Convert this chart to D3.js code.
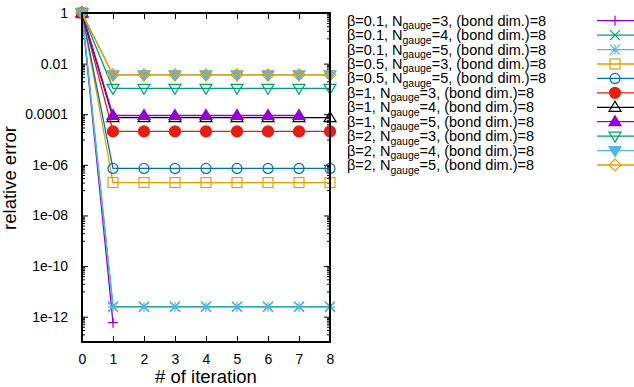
<!DOCTYPE html>
<html>
<head>
<meta charset="utf-8">
<script src="https://cdn.jsdelivr.net/npm/d3@7"></script>
<style>
  body { margin: 0; background: #fff; }
  svg { display: block; }
  text { font-family: "Liberation Sans", Arial, Helvetica, sans-serif; }
</style>
</head>
<body>
<svg id="chart" width="634" height="387"></svg>
<script>
// ---------- data ----------
const iterations = [0, 1, 2, 3, 4, 5, 6, 7, 8];
const betas   = ["0.1", "0.1", "0.1", "0.5", "0.5", "1", "1", "1", "2", "2", "2"];
const ngauges = ["3", "4", "5", "3", "5", "3", "4", "5", "3", "4", "5"];
const bondDim = "8";
const colors  = ["#9400d3", "#009e73", "#56b4e9", "#e69f00", "#0072b2", "#e51e10",
                 "#000000", "#9400d3", "#009e73", "#56b4e9", "#e69f00"];
const symbols = ["plus", "cross", "star", "square", "circle", "circleFilled",
                 "triangle", "triangleFilled", "triangleDown", "triangleDownFilled", "diamond"];
const s1  = [1, 5.8e-13];
const s2  = [1, 2.5e-12, 2.5e-12, 2.5e-12, 2.5e-12, 2.5e-12, 2.5e-12, 2.5e-12, 2.5e-12];
const s3  = [1, 2.4e-12, 2.4e-12, 2.4e-12, 2.4e-12, 2.4e-12, 2.4e-12, 2.4e-12, 2.4e-12];
const s4  = [1, 2.0e-7, 2.0e-7, 2.0e-7, 2.0e-7, 2.0e-7, 2.0e-7, 2.0e-7, 2.0e-7];
const s5  = [1, 7.2e-7, 7.2e-7, 7.2e-7, 7.2e-7, 7.2e-7, 7.2e-7, 7.2e-7, 7.2e-7];
const s6  = [1, 2.1e-5, 2.1e-5, 2.1e-5, 2.1e-5, 2.1e-5, 2.1e-5, 2.1e-5, 2.1e-5];
const s7  = [1, 7.3e-5, 7.3e-5, 7.3e-5, 7.3e-5, 7.3e-5, 7.3e-5, 7.3e-5, 7.3e-5];
const s8  = [1, 8.9e-5, 8.9e-5, 8.9e-5, 8.9e-5, 8.9e-5, 8.9e-5, 8.9e-5];
const s9  = [1, 1.06e-3, 1.06e-3, 1.06e-3, 1.06e-3, 1.06e-3, 1.06e-3, 1.06e-3, 1.06e-3];
const s10 = [1, 3.6e-3, 3.6e-3, 3.6e-3, 3.6e-3, 3.6e-3, 3.6e-3, 3.6e-3, 3.6e-3];
const s11 = [1, 3.6e-3, 3.6e-3, 3.6e-3, 3.6e-3, 3.6e-3, 3.6e-3, 3.6e-3, 3.6e-3];
const seriesValues = [s1, s2, s3, s4, s5, s6, s7, s8, s9, s10, s11];

const yMajorTicks  = [1, 1e-2, 1e-4, 1e-6, 1e-8, 1e-10, 1e-12];
const yTickLabels  = ["1", "0.01", "0.0001", "1e-06", "1e-08", "1e-10", "1e-12"];
const xTicks       = [0, 1, 2, 3, 4, 5, 6, 7, 8];
const xLabel = "# of iteration";
const yLabel = "relative error";

// ---------- layout ----------
const L = 82, R = 330, T = 13, B = 342;
const svg = d3.select("#chart");
const x = d3.scaleLinear().domain([0, 8]).range([L, R]);
const y = d3.scaleLog().domain([1, 1e-13]).range([T, B]);

// minor ticks: m * 10^(major-1) (gnuplot style for factor-100 major spacing)
const yMinor = [];
yMajorTicks.forEach(t => {
  for (let m = 1; m <= 9; m++) {
    const v = t * m / 10;
    if (v >= 1e-13 * 0.999 && v < 1) yMinor.push(v);
  }
});

const g = svg.append("g");

// left axis
const axL = d3.axisLeft(y).tickValues(yMajorTicks).tickFormat((d, i) => yTickLabels[i]).tickSizeInner(-6).tickSizeOuter(0).tickPadding(14);
const gL = g.append("g").attr("transform", `translate(${L},0)`).call(axL);
gL.select(".domain").remove();
gL.selectAll("text").attr("font-size", 14).attr("fill", "#000").style("font-family", '"Liberation Sans", Arial, sans-serif');
gL.selectAll("line").attr("stroke", "#000").attr("stroke-width", 1);
g.append("g").attr("transform", `translate(${L},0)`)
  .call(d3.axisLeft(y).tickValues(yMinor).tickFormat("").tickSizeInner(-3).tickSizeOuter(0))
  .call(s => s.select(".domain").remove());

// right axis (mirror)
const gR = g.append("g").attr("transform", `translate(${R},0)`)
  .call(d3.axisRight(y).tickValues(yMajorTicks).tickFormat("").tickSizeInner(-6).tickSizeOuter(0));
gR.select(".domain").remove();
g.append("g").attr("transform", `translate(${R},0)`)
  .call(d3.axisRight(y).tickValues(yMinor).tickFormat("").tickSizeInner(-3).tickSizeOuter(0))
  .call(s => s.select(".domain").remove());

// bottom axis
const gB = g.append("g").attr("transform", `translate(0,${B})`)
  .call(d3.axisBottom(x).tickValues(xTicks).tickFormat(d3.format("d")).tickSizeInner(-6).tickSizeOuter(0).tickPadding(12));
gB.select(".domain").remove();
gB.selectAll("text").attr("font-size", 14).attr("fill", "#000").style("font-family", '"Liberation Sans", Arial, sans-serif');
// top axis (mirror)
g.append("g").attr("transform", `translate(0,${T})`)
  .call(d3.axisTop(x).tickValues(xTicks).tickFormat("").tickSizeInner(-6).tickSizeOuter(0))
  .call(s => s.select(".domain").remove());

// ---------- symbols ----------
function drawSymbol(sel, type, color, cx, cy) {
  const gg = sel.append("g").attr("transform", `translate(${cx},${cy})`);
  const sw = 1.2;
  const s = 5;
  switch (type) {
    case "plus":
      gg.append("path").attr("d", `M${-s},0H${s}M0,${-s}V${s}`).attr("stroke", color).attr("stroke-width", sw).attr("fill", "none"); break;
    case "cross":
      gg.append("path").attr("d", `M${-s},${-s}L${s},${s}M${-s},${s}L${s},${-s}`).attr("stroke", color).attr("stroke-width", sw).attr("fill", "none"); break;
    case "star":
      gg.append("path").attr("d", `M${-s},${-s}L${s},${s}M${-s},${s}L${s},${-s}M${-s},0H${s}M0,${-s}V${s}`).attr("stroke", color).attr("stroke-width", sw).attr("fill", "none"); break;
    case "square":
      gg.append("rect").attr("x", -s).attr("y", -s).attr("width", 2 * s).attr("height", 2 * s).attr("stroke", color).attr("stroke-width", sw).attr("fill", "none"); break;
    case "circle":
      gg.append("circle").attr("r", s).attr("stroke", color).attr("stroke-width", sw).attr("fill", "none"); break;
    case "circleFilled":
      gg.append("circle").attr("r", s + 0.5).attr("stroke", color).attr("stroke-width", sw).attr("fill", color); break;
    case "triangle":
      gg.append("path").attr("d", `M0,${-s - 1}L${s + 1},${s - 1}L${-s - 1},${s - 1}Z`).attr("stroke", color).attr("stroke-width", sw).attr("fill", "none"); break;
    case "triangleFilled":
      gg.append("path").attr("d", `M0,${-s - 1}L${s + 1},${s - 1}L${-s - 1},${s - 1}Z`).attr("stroke", color).attr("stroke-width", sw).attr("fill", color); break;
    case "triangleDown":
      gg.append("path").attr("d", `M0,${s + 1}L${s + 1},${-s + 1}L${-s - 1},${-s + 1}Z`).attr("stroke", color).attr("stroke-width", sw).attr("fill", "none"); break;
    case "triangleDownFilled":
      gg.append("path").attr("d", `M0,${s + 1}L${s + 1},${-s + 1}L${-s - 1},${-s + 1}Z`).attr("stroke", color).attr("stroke-width", sw).attr("fill", color); break;
    case "diamond":
      gg.append("path").attr("d", `M0,${-s - 1}L${s + 1},0L0,${s + 1}L${-s - 1},0Z`).attr("stroke", color).attr("stroke-width", sw).attr("fill", "none"); break;
  }
}

// ---------- series ----------
const plot = svg.append("g");
const line = d3.line().x((d, i) => x(iterations[i])).y(d => y(d));
seriesValues.forEach((vals, k) => {
  plot.append("path").datum(vals).attr("d", line)
    .attr("fill", "none").attr("stroke", colors[k]).attr("stroke-width", 1.3);
  vals.forEach((v, i) => drawSymbol(plot, symbols[k], colors[k], x(iterations[i]), y(v)));
});

// frame
svg.append("rect").attr("x", L).attr("y", T).attr("width", R - L).attr("height", B - T)
  .attr("fill", "none").attr("stroke", "#000").attr("stroke-width", 2);

// axis labels
svg.append("text").attr("x", 206).attr("y", 383).attr("text-anchor", "middle")
  .attr("font-size", 18.5).text(xLabel);
svg.append("text").attr("transform", "translate(16,178) rotate(-90)").attr("text-anchor", "middle")
  .attr("font-size", 18.5).text(yLabel);

// ---------- legend ----------
const legend = svg.append("g");
const legY0 = 20.7, legStep = 14.43;
betas.forEach((b, k) => {
  const cy = legY0 + k * legStep;
  const t = legend.append("text").attr("x", 347).attr("y", cy + 5).attr("font-size", 14.5);
  t.append("tspan").text(`β=${b}, N`);
  t.append("tspan").attr("font-size", 10.5).attr("dy", 3.5).text("gauge");
  t.append("tspan").attr("dy", -3.5).text(`=${ngauges[k]}, (bond dim.)=${bondDim}`);
  legend.append("line").attr("x1", 597).attr("x2", 634).attr("y1", cy).attr("y2", cy)
    .attr("stroke", colors[k]).attr("stroke-width", 1.3);
  drawSymbol(legend, symbols[k], colors[k], 615, cy);
});
</script>
</body>
</html>
